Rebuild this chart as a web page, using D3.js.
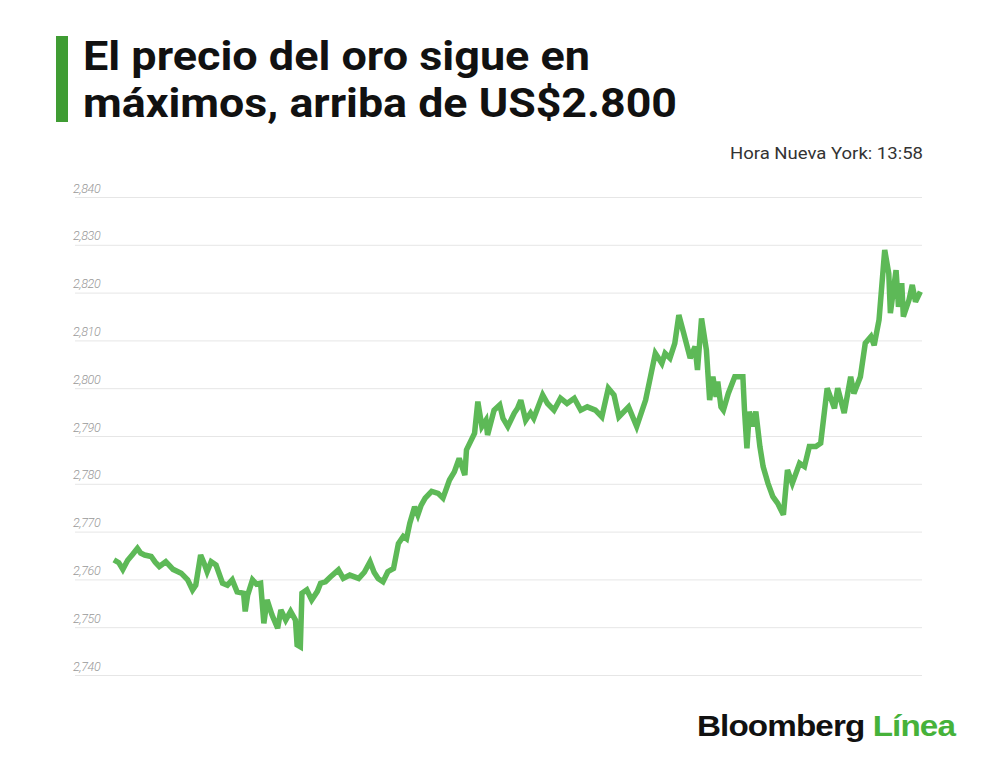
<!doctype html>
<html lang="es">
<head>
<meta charset="UTF-8" />
<title>El precio del oro sigue en máximos</title>
<script src="https://d3js.org/d3.v7.min.js"></script>
<style>
  body { margin: 0; background: #fff; }
  svg { display: block; }
</style>
</head>
<body>
<svg id="chart" width="1000" height="766"></svg>
<script>
// tiempo: % del período mostrado; precio: US$ por onza
const tiempo = [
  0.3, 0.9, 1.4, 2.0, 2.6, 3.2, 3.6, 4.1, 4.9, 5.4, 5.9, 6.7, 7.6, 8.6, 9.4, 10.0, 10.4,
  11.0, 11.4, 11.8, 12.3, 12.9, 13.7, 14.3, 14.9, 15.5, 16.3, 16.5, 16.8, 17.4, 17.9, 18.4,
  18.8, 19.2, 19.8, 20.5, 20.9, 21.5, 22.1, 22.7, 22.9, 23.3, 23.5, 24.1, 24.7, 25.4, 25.8,
  26.4, 27.0, 28.0, 28.6, 29.4, 30.5, 31.2, 31.9, 32.4, 32.9, 33.5, 34.1, 34.8, 35.4, 36.0,
  36.4, 36.8, 37.4, 37.8, 38.2, 38.7, 39.5, 40.3, 40.9, 41.7, 42.3, 42.9, 43.6, 43.8, 44.4,
  44.8, 45.2, 45.7, 46.2, 46.4, 47.2, 47.9, 48.3, 48.9, 49.7, 50.1, 50.5, 51.1, 51.7, 52.1,
  53.2, 53.8, 54.6, 55.4, 56.2, 57.1, 57.9, 58.7, 59.7, 60.5, 61.3, 62.0, 62.6, 63.8, 64.8,
  65.9, 66.5, 67.1, 67.9, 68.3, 68.9, 69.5, 70.0, 70.6, 71.4, 72.0, 72.3, 72.8, 73.4, 73.8,
  74.2, 74.6, 74.8, 75.2, 75.5, 76.1, 76.9, 77.9, 78.1, 78.4, 78.7, 79.1, 79.5, 80.0, 80.4,
  81.0, 81.6, 82.2, 82.9, 83.4, 84.0, 84.9, 85.5, 86.1, 86.9, 87.5, 88.3, 89.2, 89.6, 90.4,
  91.2, 91.6, 92.4, 93.0, 93.7, 94.1, 94.7, 95.4, 95.9, 96.1, 96.8, 97.1, 97.5, 97.7, 98.4,
  98.8, 99.2, 99.8
];
const precio = [
  2764.1, 2763.5, 2762.1, 2764.0, 2765.2, 2766.5, 2765.5, 2765.1, 2764.8, 2763.6, 2762.7, 2763.7, 2762.1, 2761.3, 2759.9, 2757.8, 2758.8,
  2765.1, 2763.5, 2761.6, 2763.7, 2763.0, 2759.2, 2758.8, 2759.9, 2757.4, 2757.1, 2753.3, 2756.7, 2759.9, 2759.0, 2759.2,
  2750.8, 2755.7, 2752.6, 2749.8, 2753.6, 2751.5, 2753.3, 2751.5, 2746.3, 2745.9, 2757.1, 2757.8, 2755.7, 2757.5, 2759.2,
  2759.5, 2760.5, 2762.0, 2760.2, 2760.9, 2760.2, 2761.5, 2763.7, 2761.5, 2760.2, 2759.5, 2761.6, 2762.3, 2767.5, 2769.0,
  2768.5, 2771.7, 2775.2, 2773.5, 2775.5, 2777.0, 2778.4, 2778.0, 2777.0, 2780.8, 2782.5, 2785.3, 2781.8, 2787.1, 2789.2,
  2790.6, 2797.2, 2792.0, 2793.3, 2790.2, 2795.4, 2796.5, 2793.7, 2792.0, 2794.8, 2795.8, 2797.5, 2793.3, 2794.8, 2793.7,
  2798.6, 2796.8, 2795.4, 2797.9, 2796.8, 2797.9, 2795.4, 2796.1, 2795.4, 2794.0, 2800.0, 2798.6, 2794.0, 2796.1, 2792.0,
  2797.5, 2802.4, 2807.3, 2805.2, 2807.3, 2806.3, 2809.4, 2815.3, 2811.5, 2806.3, 2808.7, 2803.8, 2814.6, 2808.0, 2797.5,
  2802.4, 2798.2, 2801.4, 2796.1, 2795.4, 2798.9, 2802.4, 2802.4, 2795.4, 2787.4, 2795.1, 2792.0, 2795.1, 2787.8, 2783.6,
  2780.1, 2777.3, 2775.9, 2773.5, 2782.9, 2780.1, 2784.3, 2783.6, 2787.8, 2787.8, 2788.5, 2800.0, 2795.8, 2800.0, 2794.8,
  2802.4, 2798.9, 2802.4, 2809.4, 2810.8, 2809.0, 2814.3, 2828.9, 2824.0, 2815.7, 2824.7, 2817.0, 2822.0, 2815.0, 2818.5,
  2821.6, 2818.1, 2820.2
];
const yTicks = [2740, 2750, 2760, 2770, 2780, 2790, 2800, 2810, 2820, 2830, 2840];
const titulo = ["El precio del oro sigue en", "máximos, arriba de US$2.800"];
const hora = "Hora Nueva York: 13:58";

const svg = d3.select("#chart");
const margin = { top: 197, right: 78, bottom: 91, left: 75 };
const width = +svg.attr("width");
const height = +svg.attr("height");

const x = d3.scaleLinear().domain([-4.5, 100]).range([margin.left, width - margin.right]);
const y = d3.scaleLinear().domain([2740, 2840]).range([height - margin.bottom, margin.top]);

// barra verde y título
svg.append("rect")
  .attr("x", 56).attr("y", 36).attr("width", 12).attr("height", 86)
  .attr("fill", "#3f9c33");

const anchoTitulo = [507, 594];
svg.append("g")
  .style("font-family", "Roboto, sans-serif")
  .style("font-weight", 700)
  .style("font-size", "40px")
  .attr("fill", "#111")
  .selectAll("text")
  .data(titulo)
  .join("text")
  .attr("x", 83)
  .attr("y", (d, i) => 70 + i * 47)
  .attr("textLength", (d, i) => anchoTitulo[i])
  .attr("lengthAdjust", "spacingAndGlyphs")
  .text((d) => d);

svg.append("text")
  .attr("x", 730).attr("y", 159)
  .attr("textLength", 193)
  .attr("lengthAdjust", "spacingAndGlyphs")
  .style("font-family", "Roboto, sans-serif")
  .style("font-size", "17px")
  .attr("fill", "#333")
  .text(hora);

// rejilla y etiquetas del eje
const yAxis = svg.append("g")
  .attr("transform", `translate(${margin.left},0)`)
  .call(d3.axisRight(y)
    .tickValues(yTicks)
    .tickSize(width - margin.left - margin.right)
    .tickFormat(d3.format(",")));
yAxis.select(".domain").remove();
yAxis.selectAll(".tick line").attr("stroke", "#e6e6e6").attr("stroke-width", 1);
yAxis.selectAll(".tick text")
  .attr("x", -2).attr("dy", -5)
  .attr("text-anchor", "start")
  .style("font-family", "Roboto, sans-serif")
  .style("font-style", "italic")
  .style("font-weight", 300)
  .style("font-size", "12.5px")
  .style("letter-spacing", "-0.4px")
  .attr("fill", "#999");

// línea del precio
const serie = tiempo.map((t, i) => ({ t, v: precio[i] }));
svg.append("path")
  .datum(serie)
  .attr("fill", "none")
  .attr("stroke", "#5db957")
  .attr("stroke-width", 5.5)
  .attr("stroke-linejoin", "miter")
  .attr("stroke-miterlimit", 3)
  .attr("d", d3.line().x((d) => x(d.t)).y((d) => y(d.v)));

// logo
const logo = svg.append("text")
  .attr("x", 697).attr("y", 736)
  .attr("textLength", 258)
  .attr("lengthAdjust", "spacingAndGlyphs")
  .style("font-family", "'Liberation Sans', Arial, sans-serif")
  .style("font-weight", 700)
  .style("font-size", "30px")
  .style("letter-spacing", "-0.8px");
logo.append("tspan").attr("fill", "#111").text("Bloomberg ");
logo.append("tspan").attr("fill", "#46b23a").text("Línea");
</script>
</body>
</html>
